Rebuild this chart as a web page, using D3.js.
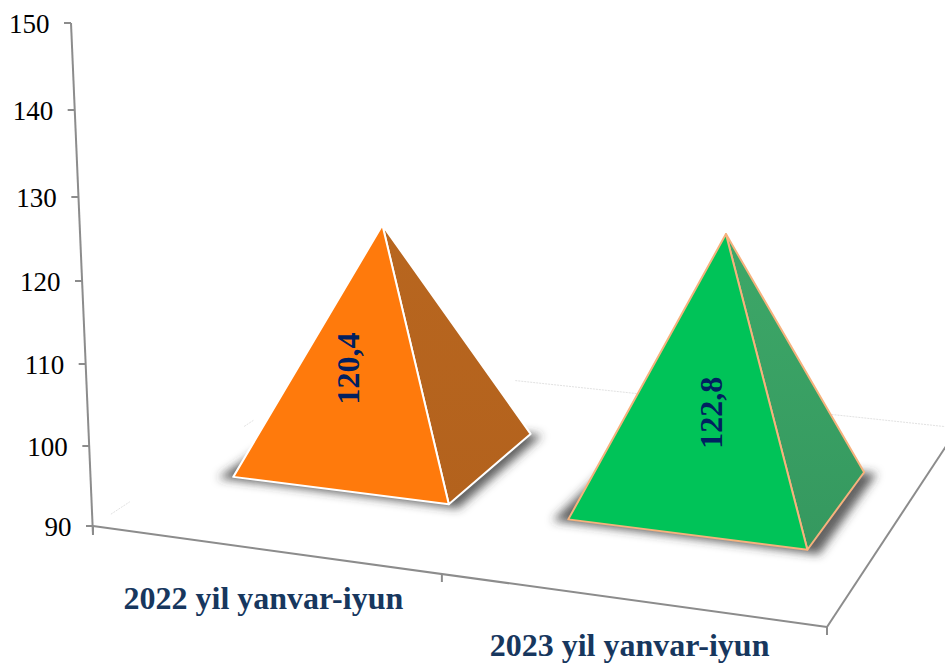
<!DOCTYPE html>
<html><head><meta charset="utf-8">
<script src="https://cdn.jsdelivr.net/npm/d3@7"></script>
<style>html,body{margin:0;padding:0;background:#fff;overflow:hidden}svg{display:block}text{font-family:"Liberation Serif",serif}</style>
</head><body><svg id="c" width="945" height="663"></svg>
<script>
const categories = ["2022 yil yanvar-iyun", "2023 yil yanvar-iyun"];
const values = [120.4, 122.8];
const valueLabels = ["120,4", "122,8"];
const tickValues = [90, 100, 110, 120, 130, 140, 150];

// ---- layout (not data) ----
const frontFaces = ["#ff7a0c", "#00c358"];
const sideFaces = [["#b8661f", "#b3621d"], ["#3da868", "#35985f"]];
const edgeColors = ["#ffffff", "#f6b27d"];
const labelOffset = [[-26, -86.5], [2, -82.5]];
const tickScreenY = [526, 446, 364, 281, 197, 110, 23];
const corners = {fl:[93,526], fr:[827,627], br:[958,428], bl:[342,362]};

const svg = d3.select("#c");
const y = d3.scaleLinear().domain(tickValues).range(tickScreenY);
const axisX = d3.scaleLinear().domain([90,150]).range([93,71]);
const band = d3.scaleBand().domain(categories).range([.001,1.001]).paddingInner(.345).paddingOuter(.1725);
const depth = d3.scaleLinear().domain([0,1]).range([.30,.70]);

// square → floor quadrilateral homography
const H = (() => {
  const {fl,fr,br,bl} = corners;
  const dx1=fr[0]-br[0], dx2=bl[0]-br[0], sx=fl[0]-fr[0]+br[0]-bl[0];
  const dy1=fr[1]-br[1], dy2=bl[1]-br[1], sy=fl[1]-fr[1]+br[1]-bl[1];
  const den=dx1*dy2-dx2*dy1;
  const g=(sx*dy2-dx2*sy)/den, h=(dx1*sy-sx*dy1)/den;
  return {a:fr[0]-fl[0]+g*fr[0], b:bl[0]-fl[0]+h*bl[0], c:fl[0],
          d:fr[1]-fl[1]+g*fr[1], e:bl[1]-fl[1]+h*bl[1], f:fl[1], g, h};
})();
const W = (u,v) => 1+H.g*u+H.h*v;
const floor = (u,v) => [(H.a*u+H.b*v+H.c)/W(u,v), (H.d*u+H.e*v+H.f)/W(u,v)];
const apex = (u,v,val) => {
  const [x,yy]=floor(u,v);
  const hgt=(y(90)-y(val))/W(u,v)*1.0;
  return [x+(x-507)*hgt*0.000109, yy-hgt];
};

const defs = svg.append("defs");
const f=defs.append("filter").attr("id","blur").attr("filterUnits","userSpaceOnUse")
  .attr("x",0).attr("y",0).attr("width",945).attr("height",663);
f.append("feGaussianBlur").attr("stdDeviation",5);
categories.forEach((c,i)=>{
  const g=defs.append("linearGradient").attr("id","side"+i).attr("x1",0).attr("y1",0).attr("x2",0).attr("y2",1);
  g.append("stop").attr("offset","0").attr("stop-color",sideFaces[i][0]);
  g.append("stop").attr("offset","1").attr("stop-color",sideFaces[i][1]);
});

const pts = a => a.map(p=>p.join(",")).join(" ");
const axisColor="#8c8c8c";

// faint floor grid
const grid=svg.append("g").attr("fill","none").attr("stroke","#e2e2e2").attr("stroke-width",1).attr("stroke-dasharray","2,1");
grid.append("line").attr("x1",floor(.3,1)[0]).attr("y1",floor(.3,1)[1]).attr("x2",floor(1,1)[0]).attr("y2",floor(1,1)[1]);
[[.06,.125],[.56,.60]].forEach(s=>{
  grid.append("line").attr("x1",floor(0,s[0])[0]).attr("y1",floor(0,s[0])[1]).attr("x2",floor(0,s[1])[0]).attr("y2",floor(0,s[1])[1]);
});

// value axis
const ax=svg.append("g");
ax.append("line").attr("x1",axisX(150)).attr("y1",y(150)).attr("x2",axisX(90)).attr("y2",y(90)+9)
  .attr("stroke",axisColor).attr("stroke-width",2);
ax.selectAll("line.t").data(tickValues).join("line").attr("class","t")
  .attr("x1",d=>axisX(d)-7).attr("x2",d=>axisX(d)).attr("y1",d=>y(d)).attr("y2",d=>y(d))
  .attr("stroke",axisColor).attr("stroke-width",2);
ax.selectAll("text").data(tickValues).join("text")
  .attr("x",d=>axisX(d)-21.5).attr("y",d=>y(d)+10).attr("text-anchor","end")
  .attr("font-size",27).attr("fill","#000").text(d=>d);

// floor edges
const fe=svg.append("g").attr("stroke",axisColor).attr("stroke-width",2);
fe.append("line").attr("x1",corners.fl[0]).attr("y1",corners.fl[1]).attr("x2",corners.fr[0]).attr("y2",corners.fr[1]);
fe.append("line").attr("x1",corners.fr[0]).attr("y1",corners.fr[1]).attr("x2",corners.br[0]).attr("y2",corners.br[1]);
fe.selectAll("line.t").data([0,.503,1]).join("line").attr("class","t")
  .attr("x1",d=>floor(d,0)[0]).attr("y1",d=>floor(d,0)[1])
  .attr("x2",d=>floor(d,0)[0]).attr("y2",d=>floor(d,0)[1]+8);

// pyramids
categories.forEach((c,i)=>{
  const u0=band(c), u1=u0+band.bandwidth(), um=(u0+u1)/2, v0=depth(0), v1=depth(1), vm=(v0+v1)/2;
  const FL=floor(u0,v0), FR=floor(u1,v0), RB=floor(u1,v1), A=apex(um,vm,values[i]);
  const e=.018;
  svg.append("polygon")
    .attr("points",pts([floor(u0-e,v0-.014),floor(u1+e,v0-.014),floor(u1+e,v1),floor(u0-e,v1)]))
    .attr("fill","#333").attr("fill-opacity",.78).attr("filter","url(#blur)");
  svg.append("polygon").attr("points",pts([A,FR,RB])).attr("fill",`url(#side${i})`)
    .attr("stroke",edgeColors[i]).attr("stroke-width",2).attr("stroke-linejoin","round");
  svg.append("polygon").attr("points",pts([A,FL,FR])).attr("fill",frontFaces[i])
    .attr("stroke",edgeColors[i]).attr("stroke-width",2).attr("stroke-linejoin","round");
  const [cx,cy]=floor(um,vm);
  svg.append("text").attr("transform",`translate(${cx+labelOffset[i][0]},${cy+labelOffset[i][1]}) rotate(-90)`)
    .attr("text-anchor","middle").attr("font-size",32).attr("font-weight","bold").attr("fill","#002060").text(valueLabels[i]);
  const [lx,ly]=floor(um,0);
  svg.append("text").attr("x",lx+1).attr("y",Math.min(ly+60,655.5)).attr("text-anchor","middle")
    .attr("font-size",32).attr("font-weight","bold").attr("fill","#17375e").text(c);
});
</script></body></html>
